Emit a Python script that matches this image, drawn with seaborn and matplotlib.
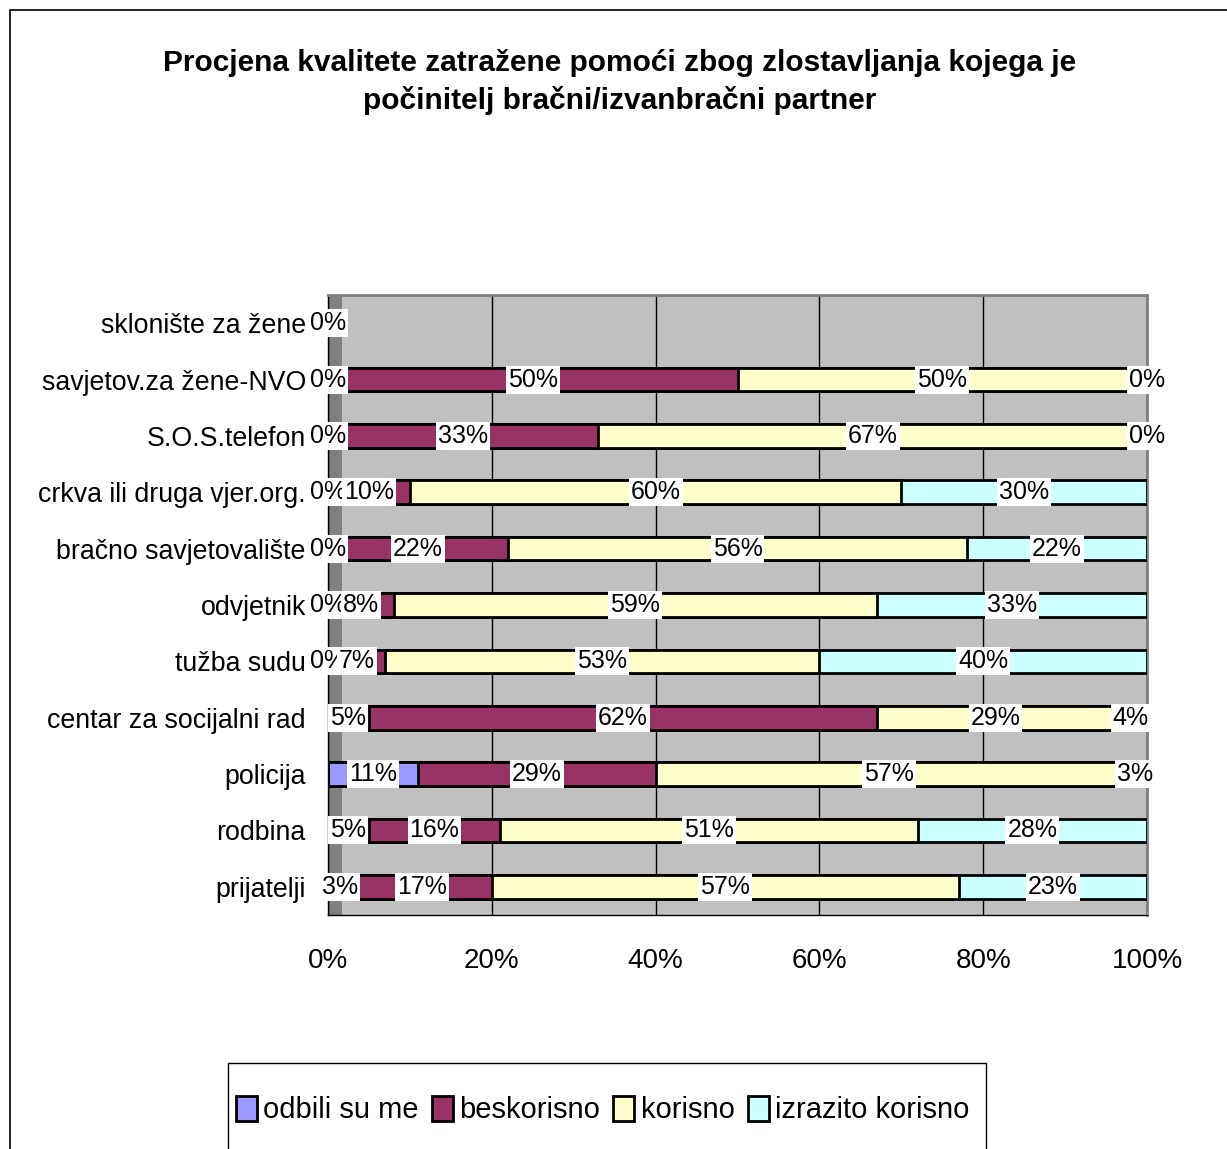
import matplotlib
matplotlib.use("Agg")
import matplotlib.pyplot as plt
import seaborn as sns
import pandas as pd
import numpy as np
from matplotlib.patches import Rectangle, Patch

categories = ["sklonište za žene", "savjetov.za žene-NVO", "S.O.S.telefon",
              "crkva ili druga vjer.org.", "bračno savjetovalište", "odvjetnik",
              "tužba sudu", "centar za socijalni rad", "policija", "rodbina", "prijatelji"]
series = ["odbili su me", "beskorisno", "korisno", "izrazito korisno"]
odbili = [0, 0, 0, 0, 0, 0, 0, 5, 11, 5, 3]
beskorisno = [0, 50, 33, 10, 22, 8, 7, 62, 29, 16, 17]
korisno = [0, 50, 67, 60, 56, 59, 53, 29, 57, 51, 57]
izrazito = [0, 0, 0, 30, 22, 33, 40, 4, 3, 28, 23]
colors = ["#9999FF", "#993366", "#FFFFCC", "#CCFFFF"]
xticks = [0, 20, 40, 60, 80, 100]
xticklabels = ["0%", "20%", "40%", "60%", "80%", "100%"]

sns.set_theme(style="white")
plt.rcParams['font.family'] = ['Liberation Sans', 'DejaVu Sans']
plt.rcParams['text.color'] = 'black'
plt.rcParams['xtick.color'] = 'black'
plt.rcParams['ytick.color'] = 'black'
plt.rcParams['axes.labelcolor'] = 'black'

W, H = 1227, 1149
fig = plt.figure(figsize=(W / 100, H / 100), dpi=100)
fig.patches.append(Rectangle((10 / W, -0.1), 1.2, 1 - 10 / H + 0.1, transform=fig.transFigure,
                             fill=False, edgecolor="black", linewidth=1.2))
# legend frame (extends past the bottom edge as in the reference)
fig.patches.append(Rectangle((228 / W, -0.05), (986 - 228) / W, (1149 - 1063) / H + 0.05,
                             transform=fig.transFigure, fill=False, edgecolor="black", linewidth=1))

ax = fig.add_axes([328 / W, 1 - 915 / H, (1147 - 328) / W, (915 - 295) / H])
ax.set_facecolor("#C0C0C0")
ax.axvspan(0, 1.7, color="#808080", zorder=0.5, linewidth=0)

vals = np.array([odbili, beskorisno, korisno, izrazito], dtype=float)
cum = np.cumsum(vals, axis=0)
df = pd.DataFrame({"cat": categories})
for i in range(3, -1, -1):
    df["v"] = cum[i]
    sns.barplot(data=df, x="v", y="cat", color=colors[i], saturation=1, orient="h",
                width=0.42, edgecolor="black", linewidth=2, ax=ax, zorder=3)

starts = cum - vals
for i in range(4):
    for j, c in enumerate(categories):
        xc = starts[i, j] + vals[i, j] / 2
        ax.text(xc, j, f"{int(vals[i, j])}%", ha="center", va="center", fontsize=18,
                zorder=5, bbox=dict(boxstyle="square,pad=0.08", facecolor="white", edgecolor="none"))

ax.set_xlim(0, 100)
ax.set_ylim(len(categories) - 0.5, -0.5)
ax.set_xticks(xticks)
ax.set_xticklabels(xticklabels, fontsize=20)
ax.set_xlabel("")
ax.set_ylabel("")
ax.tick_params(axis="y", labelsize=19.3, length=0, pad=16)
ax.set_yticks(np.arange(len(categories) + 1) - 0.5, minor=True)
ax.tick_params(axis="y", which="minor", length=8, color="black", direction="out")
ax.tick_params(axis="x", length=10, color="black", direction="out", pad=14)
ax.xaxis.grid(True, color="black", linewidth=1, zorder=0)
ax.set_axisbelow(True)
for s in ["top", "right"]:
    ax.spines[s].set_color("#808080")
    ax.spines[s].set_linewidth(2)
ax.spines["left"].set_color("black")
ax.spines["bottom"].set_color("black")
ax.spines["left"].set_linewidth(1)
ax.spines["bottom"].set_linewidth(1)

fig.text(620 / W, 1 - 82 / H,
         "Procjena kvalitete zatražene pomoći zbog zlostavljanja kojega je\npočinitelj bračni/izvanbračni partner",
         ha="center", va="center", fontsize=21.5, fontweight="bold", linespacing=1.38)

handles = [Patch(facecolor=c, edgecolor="black", linewidth=2, label=s) for c, s in zip(colors, series)]
leg = fig.legend(handles=handles, loc="center left", bbox_to_anchor=(236 / W, 1 - 1110 / H),
                 ncol=4, fontsize=21, frameon=False, borderpad=0,
                 handlelength=0.72, handleheight=0.95, handletextpad=0.22, columnspacing=0.45,
                 borderaxespad=0)

fig.savefig("out.png", dpi=100)
